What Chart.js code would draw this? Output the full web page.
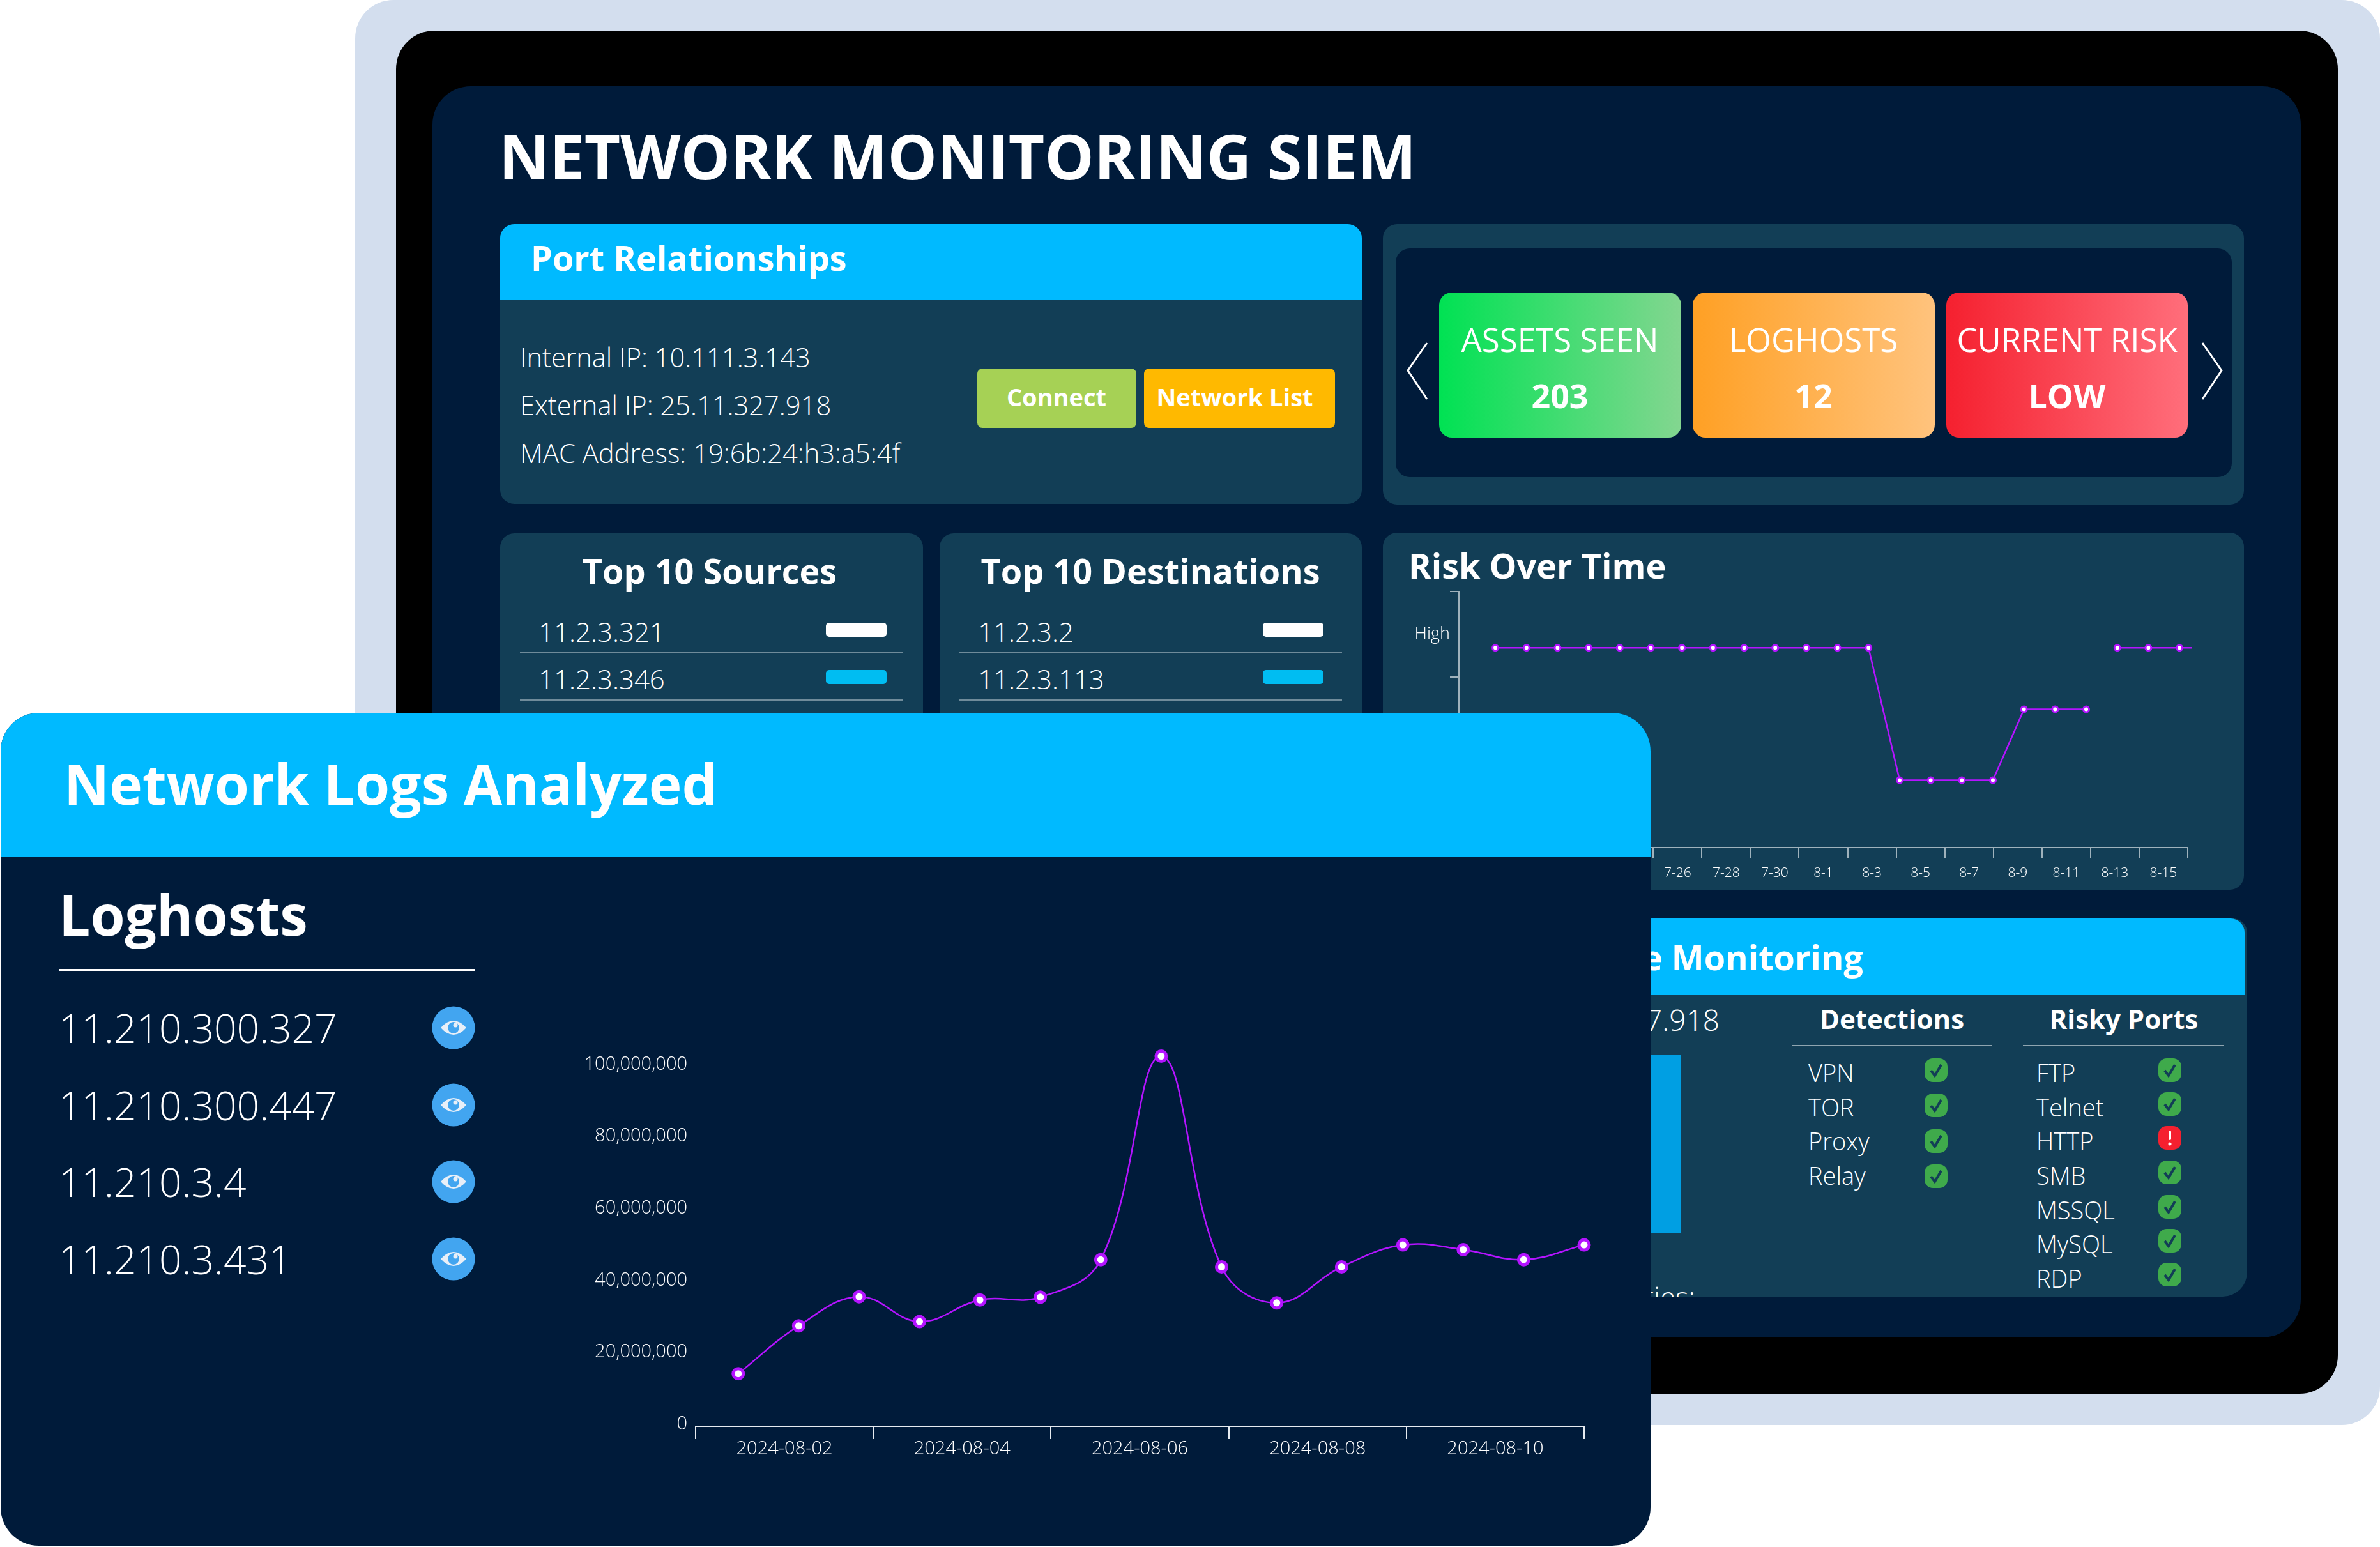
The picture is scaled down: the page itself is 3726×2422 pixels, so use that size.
<!DOCTYPE html>
<html>
<head>
<meta charset="utf-8">
<title>Network Monitoring SIEM</title>
<script src="https://cdn.jsdelivr.net/npm/chart.js@4/dist/chart.umd.min.js"></script>
<style>
html, body { margin: 0; padding: 0; background: #fff; }
body { position: relative; width: 3726px; height: 2422px; overflow: hidden; font-family: "Open Sans", sans-serif; color: #fff; }
.box, .t, .chartwrap, svg { position: absolute; }
.t { white-space: nowrap; line-height: 1; transform: translateY(-50%); }
.t.c { transform: translate(-50%, -50%); }
.t.r { transform: translate(-100%, -50%); }
</style>
</head>
<body>
<script>
// log volume chart
var logTickLabels = ['2024-08-02', '2024-08-04', '2024-08-06', '2024-08-08', '2024-08-10'];
var logDays = [0.48, 1.16, 1.84, 2.52, 3.2, 3.88, 4.56, 5.24, 5.92, 6.54, 7.27, 7.96, 8.64, 9.32, 10];
var logCounts = [14000000, 27300000, 35400000, 28500000, 34500000, 35300000, 45700000, 102300000, 43700000, 33700000, 43700000, 49800000, 48500000, 45700000, 49800000];
var logYTicks = [0, 20000000, 40000000, 60000000, 80000000, 100000000];

// risk chart
var riskTickLabels = ['7-18', '7-20', '7-22', '7-24', '7-26', '7-28', '7-30', '8-1', '8-3', '8-5', '8-7', '8-9', '8-11', '8-13', '8-15'];
var riskLevelLabels = ['High', '', ''];
var riskDays = [1.5, 2.78, 4.06, 5.34, 6.62, 7.9, 9.18, 10.46, 11.74, 13.02, 14.3, 15.58, 16.86, 18.14, 19.42, 20.7, 21.98, 23.26, 24.54, 25.82, 26.5, 27.1, 28.38, 29.66, 30.94];
var riskValues = [2.34, 2.34, 2.34, 2.34, 2.34, 2.34, 2.34, 2.34, 2.34, 2.34, 2.34, 2.34, 2.34, 0.79, 0.79, 0.79, 0.79, 1.62, 1.62, 1.62, null, 2.34, 2.34, 2.34, 2.34];

// lists
var portInfo = ['Internal IP: 10.111.3.143', 'External IP: 25.11.327.918', 'MAC Address: 19:6b:24:h3:a5:4f'];
var topSources = ['11.2.3.321', '11.2.3.346'];
var topDestinations = ['11.2.3.2', '11.2.3.113'];
var detections = ['VPN', 'TOR', 'Proxy', 'Relay'];
var riskyPorts = ['FTP', 'Telnet', 'HTTP', 'SMB', 'MSSQL', 'MySQL', 'RDP'];
var riskyPortFlags = [0, 0, 1, 0, 0, 0, 0];
var loghosts = ['11.210.300.327', '11.210.300.447', '11.210.3.4', '11.210.3.431'];

var NAVY = '#001b3a', PANEL = '#123e56', CYAN = '#00baff', PURPLE = '#b414ff';

function box(x0, y0, x1, y1, color, radius) {
    var d = document.createElement('div');
    d.className = 'box';
    d.style.cssText = 'left:' + x0 + 'px;top:' + y0 + 'px;width:' + (x1 - x0) + 'px;height:' + (y1 - y0) + 'px;background:' + color + ';border-radius:' + radius;
    document.body.appendChild(d);
    return d;
}

function text(str, x, y, size, weight, cls, parent) {
    var d = document.createElement('div');
    d.className = 't ' + (cls || '');
    d.textContent = str;
    d.style.cssText = 'left:' + x + 'px;top:' + y + 'px;font-size:' + size + 'px;font-weight:' + weight;
    (parent || document.body).appendChild(d);
    return d;
}

function svg(x, y, w, h, inner) {
    var wrap = document.createElement('div');
    wrap.innerHTML = '<svg xmlns="http://www.w3.org/2000/svg" style="left:' + x + 'px;top:' + y + 'px" width="' + w + '" height="' + h + '" viewBox="0 0 ' + w + ' ' + h + '">' + inner + '</svg>';
    document.body.appendChild(wrap.firstChild);
}

function statusIcon(x, y, bad) {
    var inner;
    if (bad) {
        inner = '<rect width="36" height="37" rx="13" fill="#f5202f"/><rect x="16" y="7" width="4" height="15" rx="2" fill="#fff"/><circle cx="18" cy="28" r="2.5" fill="#fff"/>';
    } else {
        inner = '<rect width="36" height="37" rx="13" fill="#3faa4b"/><path d="M10 19 L16 27 L26 10" fill="none" stroke="#123e56" stroke-width="4"/>';
    }
    svg(x, y, 36, 37, inner);
}

function eyeIcon(cx, cy) {
    svg(cx - 34, cy - 34, 68, 68, '<circle cx="34" cy="34" r="33.5" fill="#42a5f0"/>' +
        '<path d="M14 34 Q34 12 54 34 Q34 56 14 34 Z" fill="#e8eff8"/>' +
        '<circle cx="34" cy="34" r="9" fill="#42a5f0"/><circle cx="37" cy="30" r="3.5" fill="#e8eff8"/>');
}

function topList(x0, x1, titleX, title, rows, textX, chipX) {
    box(x0, 835, x1, 1393, PANEL, '22px');
    text(title, titleX, 893, 54, 700, 'c');
    var colors = ['#fff', '#00bdf2'];
    var rowY = [989, 1063];
    var lineY = [1022, 1096];
    for (var i = 0; i < rows.length; i++) {
        text(rows[i], textX, rowY[i], 42, 300);
        box(chipX, rowY[i] - 14, chipX + 95, rowY[i] + 8, colors[i], '5px');
        box(x0 + 31, lineY[i] - 1, x1 - 31, lineY[i] + 1, '#6f8b9a', '0');
    }
}

function chartCanvas(x, y, w, h) {
    var c = document.createElement('canvas');
    c.width = w;
    c.height = h;
    c.style.cssText = 'position:absolute;left:' + x + 'px;top:' + y + 'px;width:' + w + 'px;height:' + h + 'px';
    document.body.appendChild(c);
    return c;
}

function toPoints(xs, ys) {
    var pts = [];
    for (var i = 0; i < xs.length; i++) {
        pts.push({ x: xs[i], y: ys[i] });
    }
    return pts;
}

// monitor frame
box(556, 0, 3726, 2231, '#d3deee', '60px');
box(620, 48, 3660, 2182, '#000', '60px');
box(677, 135, 3602, 2094, NAVY, '60px');
text('NETWORK MONITORING SIEM', 781, 244, 97.5, 700);

// port relationships
box(783, 351, 2132, 789, PANEL, '22px');
box(783, 351, 2132, 469, CYAN, '22px 22px 0 0');
text('Port Relationships', 831, 403, 54, 700);
text(portInfo[0], 814, 559, 41.7, 300);
text(portInfo[1], 814, 634, 41.7, 300);
text(portInfo[2], 814, 709, 41.7, 300);
box(1530, 577, 1779, 670, '#a6d155', '8px');
box(1791, 577, 2090, 670, '#ffb900', '8px');
text('Connect', 1654, 621, 38, 700, 'c');
text('Network List', 1933, 621, 38, 700, 'c');

// stat cards
box(2165, 351, 3513, 790, PANEL, '22px');
box(2185, 389, 3494, 747, NAVY, '22px');
box(2253, 458, 2632, 685, 'linear-gradient(90deg,#00e253,#83d690)', '20px');
box(2650, 458, 3029, 685, 'linear-gradient(90deg,#ffa024,#ffc37d)', '20px');
box(3047, 458, 3425, 685, 'linear-gradient(90deg,#f5202f,#ff6e7b)', '20px');
text('ASSETS SEEN', 2442, 531, 51, 500, 'c');
text('203', 2442, 619, 52, 700, 'c');
text('LOGHOSTS', 2839, 531, 51, 500, 'c');
text('12', 2839, 619, 52, 700, 'c');
text('CURRENT RISK', 3236, 531, 51, 500, 'c');
text('LOW', 3236, 619, 52, 700, 'c');
svg(2200, 530, 40, 100, '<path d="M34 7 L4 50 L34 95" fill="none" stroke="#fff" stroke-width="3"/>');
svg(3442, 530, 40, 100, '<path d="M6 7 L36 50 L6 95" fill="none" stroke="#fff" stroke-width="3"/>');

// top 10 lists
topList(783, 1445, 1111, 'Top 10 Sources', topSources, 843, 1293);
topList(1471, 2132, 1801, 'Top 10 Destinations', topDestinations, 1531, 1977);

// risk over time
box(2165, 834, 3513, 1393, PANEL, '22px');
text('Risk Over Time', 2205, 885, 54, 700);

new Chart(chartCanvas(2170, 900, 1340, 485), {
    type: 'line',
    data: {
        datasets: [{
            data: toPoints(riskDays, riskValues),
            xAxisID: 'xPos',
            yAxisID: 'yPos',
            borderColor: PURPLE,
            borderWidth: 2.5,
            tension: 0,
            pointBackgroundColor: '#fff',
            pointBorderColor: PURPLE,
            pointBorderWidth: 3,
            pointRadius: 4.5,
            clip: 7
        }]
    },
    options: {
        responsive: false,
        animation: false,
        devicePixelRatio: 1,
        layout: { padding: { top: 26, right: 85, left: 0, bottom: 0 } },
        plugins: { legend: { display: false }, tooltip: { enabled: false } },
        scales: {
            xPos: { type: 'linear', axis: 'x', display: false, min: 0, max: 30 },
            yPos: { type: 'linear', axis: 'y', display: false, min: 0, max: 3 },
            x: {
                type: 'category',
                position: 'bottom',
                labels: riskTickLabels,
                offset: true,
                grid: { offset: true, drawOnChartArea: false, color: '#9fb2bc', lineWidth: 2, tickLength: 16 },
                border: { color: '#9fb2bc', width: 2 },
                ticks: { color: '#fff', autoSkip: false, maxRotation: 0, padding: 11, font: { family: 'Open Sans', weight: '300', size: 21 } },
                afterFit: function(s) { s.height = 58; }
            },
            y: {
                type: 'category',
                position: 'left',
                labels: riskLevelLabels,
                offset: true,
                grid: { offset: true, drawOnChartArea: false, color: '#9fb2bc', lineWidth: 2, tickLength: 14 },
                border: { color: '#9fb2bc', width: 2 },
                ticks: { color: '#fff', padding: 0, font: { family: 'Open Sans', weight: '300', size: 27 } },
                afterFit: function(s) { s.width = 114; }
            }
        }
    }
});

// monitoring panel
var monitorPanel = box(2165, 1438, 3518, 2030, PANEL, '22px 22px 38px 22px');
monitorPanel.style.overflow = 'hidden';
box(2165, 1438, 3514, 1557, CYAN, '22px 22px 0 0');
text('e Monitoring', 2917, 1498, 54, 700, 'r');
text('.17.918', 2692, 1596, 46, 300, 'r');
box(2300, 1652, 2631, 1930, '#009fe3', '0');
text('ties:', 2654 - 2165, 2030 - 1438, 44, 300, 'r', monitorPanel);
text('Detections', 2962, 1595, 42, 700, 'c');
text('Risky Ports', 3325, 1595, 42, 700, 'c');
box(2805, 1636, 3118, 1638, '#8fa5b0', '0');
box(3167, 1636, 3481, 1638, '#8fa5b0', '0');

var detectionTextY = [1679, 1733, 1786, 1840];
var detectionIconY = [1675, 1730, 1786, 1841];
for (var i = 0; i < detections.length; i++) {
    text(detections[i], 2831, detectionTextY[i], 38, 300);
    statusIcon(3013, detectionIconY[i] - 18, false);
}
var portTextY = [1679, 1733, 1786, 1840, 1894, 1947, 2001];
var portIconY = [1675, 1728, 1781, 1835, 1889, 1942, 1995];
for (var j = 0; j < riskyPorts.length; j++) {
    text(riskyPorts[j], 3188, portTextY[j], 38, 300);
    statusIcon(3379, portIconY[j] - 18, riskyPortFlags[j] == 1);
}

// front panel
box(1, 1116, 2584, 2420, NAVY, '60px');
box(1, 1116, 2584, 1342, CYAN, '60px 60px 0 0');
text('Network Logs Analyzed', 100, 1227, 87.5, 700);
text('Loghosts', 92, 1432, 87.5, 700);
box(93, 1517, 743, 1520, '#fff', '0');
var loghostY = [1609, 1730, 1850, 1971];
for (var k = 0; k < loghosts.length; k++) {
    text(loghosts[k], 92, loghostY[k], 62.3, 300);
    eyeIcon(710, loghostY[k]);
}

new Chart(chartCanvas(909, 1600, 1661, 720), {
    type: 'line',
    data: {
        datasets: [{
            data: toPoints(logDays, logCounts),
            xAxisID: 'xPos',
            yAxisID: 'y',
            borderColor: PURPLE,
            borderWidth: 2.5,
            tension: 0.4,
            pointBackgroundColor: '#fff',
            pointBorderColor: PURPLE,
            pointBorderWidth: 5,
            pointRadius: 8,
            clip: 30
        }]
    },
    options: {
        responsive: false,
        animation: false,
        devicePixelRatio: 1,
        layout: { padding: { top: 40, right: 90, left: 0, bottom: 0 } },
        plugins: { legend: { display: false }, tooltip: { enabled: false } },
        scales: {
            xPos: { type: 'linear', axis: 'x', display: false, min: 0, max: 10 },
            x: {
                type: 'category',
                position: 'bottom',
                labels: logTickLabels,
                offset: true,
                grid: { offset: true, drawOnChartArea: false, color: '#e6ebf0', lineWidth: 2, tickLength: 20 },
                border: { color: '#e6ebf0', width: 2 },
                ticks: { color: '#fff', autoSkip: false, maxRotation: 0, padding: -2, font: { family: 'Open Sans', weight: '300', size: 29 } },
                afterFit: function(s) { s.height = 87; }
            },
            y: {
                type: 'linear',
                position: 'left',
                min: -620000,
                max: 104700000,
                grid: { display: false },
                border: { display: false },
                afterBuildTicks: function(s) {
                    s.ticks = logYTicks.map(function(v) { return { value: v }; });
                },
                ticks: {
                    color: '#fff',
                    padding: 5,
                    font: { family: 'Open Sans', weight: '300', size: 29 },
                    callback: function(v) { return v.toLocaleString('en-US'); }
                },
                afterFit: function(s) { s.width = 180; }
            }
        }
    }
});
</script>
</body>
</html>
